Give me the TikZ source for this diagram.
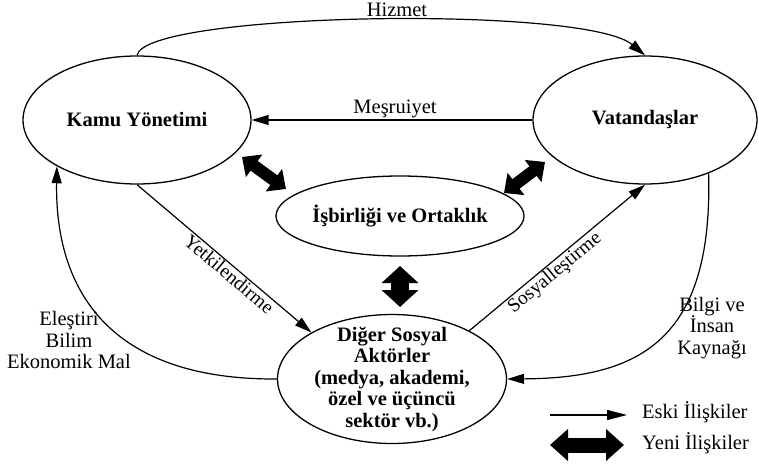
\documentclass[tikz,border=0pt]{standalone}
\usepackage{fontspec}
\setmainfont{Liberation Serif}
\usetikzlibrary{shapes.geometric,arrows.meta}
\begin{document}
\begin{tikzpicture}[x=1pt,y=-1pt,
  ell/.style={draw, ellipse, line width=1.3pt, inner sep=0pt,
    font=\fontsize{20.5}{21.5}\selectfont\bfseries, align=center},
  rel/.style={line width=1.2pt, -{Triangle[length=17pt,width=10pt]}},
  lbl/.style={font=\fontsize{20.5}{21.5}\selectfont, align=center, inner sep=1pt},
  slbl/.style={font=\fontsize{19.5}{21}\selectfont, inner sep=1pt, sloped, below},
  newrel/.style={line width=12pt, {Triangle[length=15pt,width=27pt]}-{Triangle[length=15pt,width=27pt]}}]
\useasboundingbox (0,0) rectangle (759,465);

% main nodes
\node[ell, minimum width=228pt, minimum height=128pt] (kamu) at (137,120) {Kamu Yönetimi};
\node[ell, minimum width=224pt, minimum height=128pt] (vat) at (645,120) {Vatandaşlar};
\node[ell, minimum width=224pt, minimum height=80pt] (isb) at (400,216) {İşbirliği ve Ortaklık};
\node[ell, minimum width=229pt, minimum height=129pt, inner ysep=-12pt] (diger) at (392,379)
  {Diğer Sosyal\\Aktörler\\(medya, akademi,\\özel ve üçüncü\\sektör vb.)};

% old relations
\draw[rel] (kamu.north) .. controls (145,12) and (585,5) .. (vat.north);
\node[lbl] (hiz) at (397,10) {Hizmet};
\draw[rel] (vat.west) -- (kamu.east);
\node[lbl] (mes) at (395,109) {Meşruiyet};
\draw[rel] (kamu.south) -- node[slbl, pos=0.56] {Yetkilendirme} (diger.150);
\draw[rel] (diger.32) -- node[slbl, pos=0.45] {Sosyalleştirme} (vat.south);
\draw[rel] (vat.-40) .. controls (713,340) and (640,378) .. (diger.east);
\node[lbl] (bilgi) at (712,328) {Bilgi ve\\İnsan\\Kaynağı};
\draw[rel] (diger.west) .. controls (100,380) and (55,280) .. (kamu.-150);
\node[lbl] (elestiri) at (69,340) {Eleştiri\\Bilim\\Ekonomik Mal};

% new relations
\coordinate (a1) at (242,157); \coordinate (a2) at (286,189);
\coordinate (b1) at (504,193); \coordinate (b2) at (545,162);
\coordinate (c1) at (400,266); \coordinate (c2) at (400,307);
\draw[newrel] (a1) -- (a2);
\draw[newrel] (b1) -- (b2);
\draw[line width=18pt, {Triangle[length=17pt,width=36pt]}-{Triangle[length=17pt,width=36pt]}] (c1) -- (c2);

% legend
\coordinate (l1) at (550,415); \coordinate (l2) at (627,415);
\coordinate (m1) at (550,445); \coordinate (m2) at (624,445);
\draw[line width=1.2pt, -{Triangle[length=20pt,width=10pt]}] (l1) -- (l2);
\node[lbl, anchor=west] (eski) at (641,412) {Eski İlişkiler};
\draw[line width=15pt, {Triangle[length=18pt,width=31pt]}-{Triangle[length=18pt,width=31pt]}] (m1) -- (m2);
\node[lbl, anchor=west] (yeni) at (641,443) {Yeni İlişkiler};
\end{tikzpicture}
\end{document}
